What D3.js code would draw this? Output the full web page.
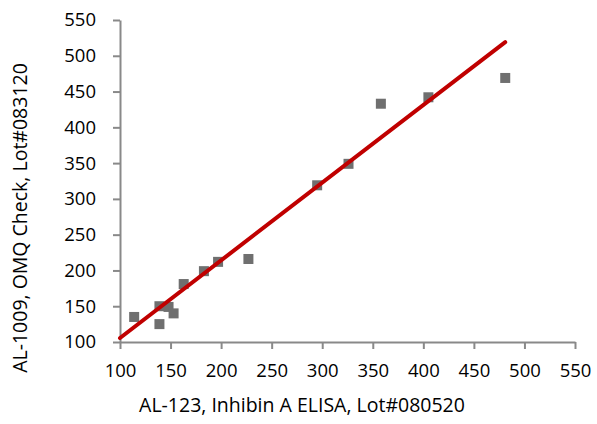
<!DOCTYPE html>
<html lang="en">
<head>
    <meta charset="UTF-8">
    <title>Chart</title>
    <script src="https://d3js.org/d3.v7.min.js"></script>
    <style>
        body { margin: 0; background: #fff; }
        text { font-family: 'Open Sans', sans-serif; fill: #000; }
    </style>
</head>
<body>
<script>

    const width = 597;
    const height = 424;

    // data
    const xValues = [114, 139, 139, 148, 153, 163, 183, 197, 227, 295, 326, 358, 405, 481];
    const yValues = [135, 125, 150, 149, 140, 181, 199, 212, 216, 319, 349, 433, 442, 469];
    const ticks = [100, 150, 200, 250, 300, 350, 400, 450, 500, 550];
    const trendX = [100, 481];
    const slope = 1.085;
    const intercept = -2.9;

    const xTitle = "AL-123, Inhibin A ELISA, Lot#080520";
    const yTitle = "AL-1009, OMQ Check, Lot#083120";

    const x = d3.scaleLinear().domain([100, 550]).range([120, 575]);
    const y = d3.scaleLinear().domain([100, 550]).range([342, 20]);

    const svg = d3.select("body").append("svg").attr("width", width).attr("height", height);

    const axisColor = "#898989";

    const xAxis = svg.append("g")
            .attr("transform", "translate(0," + y(100) + ")")
            .call(d3.axisBottom(x).tickValues(ticks).tickSize(7).tickPadding(15).tickSizeOuter(0));
    const yAxis = svg.append("g")
            .attr("transform", "translate(" + x(100) + ",0)")
            .call(d3.axisLeft(y).tickValues(ticks).tickSize(7).tickPadding(17).tickSizeOuter(0));

    [xAxis, yAxis].forEach(function(g) {
        g.select(".domain").attr("stroke", axisColor).attr("stroke-width", 2);
        g.selectAll(".tick line").attr("stroke", axisColor).attr("stroke-width", 2);
        g.selectAll(".tick text").style("font-size", "18.5px").attr("fill", "#000");
    });

    svg.append("g").selectAll("rect")
            .data(xValues)
            .enter().append("rect")
            .attr("x", (d) => x(d) - 5)
            .attr("y", (d, i) => y(yValues[i]) - 5)
            .attr("width", 10)
            .attr("height", 10)
            .attr("fill", "#6f6f6f");

    const line = d3.line()
            .x((d) => x(d))
            .y((d) => y(slope * d + intercept));

    svg.append("path")
            .datum(trendX)
            .attr("d", line)
            .attr("stroke", "#c00000")
            .attr("stroke-width", 4)
            .attr("stroke-linecap", "round")
            .attr("fill", "none");

    svg.append("text")
            .attr("x", 302)
            .attr("y", 412)
            .attr("text-anchor", "middle")
            .style("font-size", "19.5px")
            .text(xTitle);

    svg.append("text")
            .attr("transform", "translate(27,218) rotate(-90)")
            .attr("text-anchor", "middle")
            .style("font-size", "19.5px")
            .text(yTitle);

</script>
</body>
</html>
